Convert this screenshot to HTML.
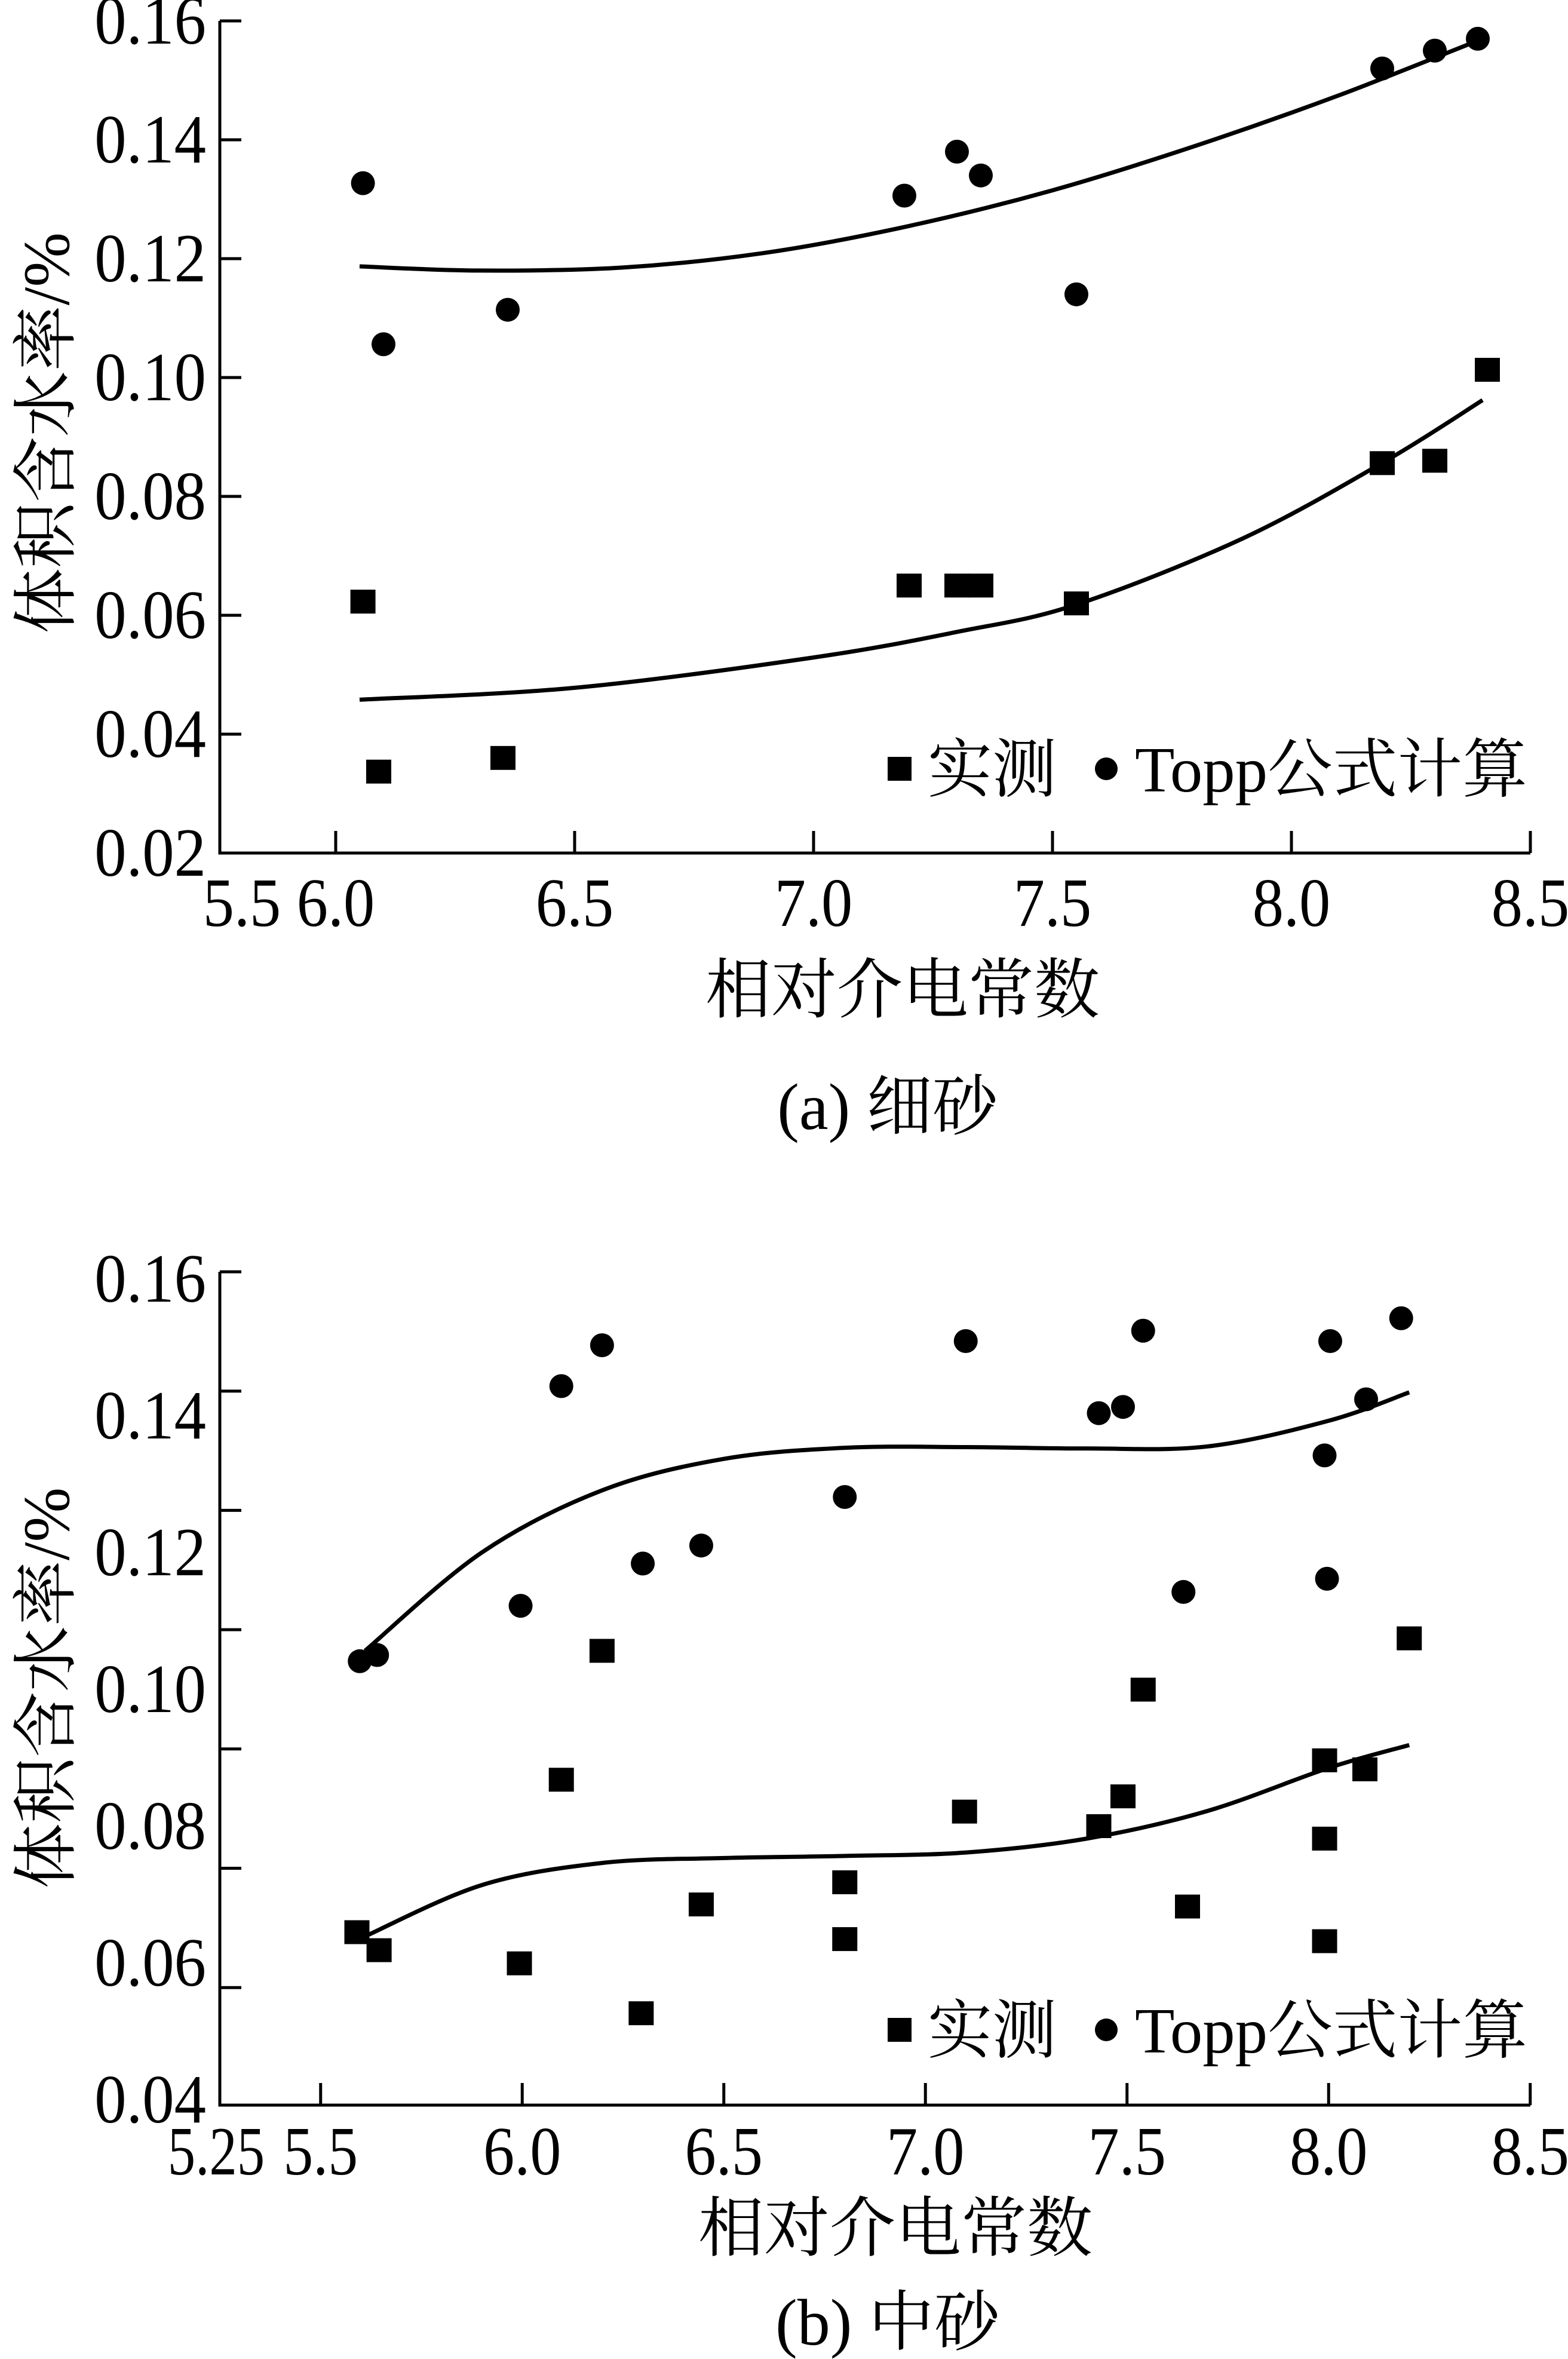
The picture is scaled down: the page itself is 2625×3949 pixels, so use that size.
<!DOCTYPE html>
<html><head><meta charset="utf-8">
<style>
html,body{margin:0;padding:0;background:#fff;}
svg{display:block;}
text{font-family:"Liberation Serif","Noto Serif CJK SC","Noto Sans CJK SC",serif;fill:#000;}
</style></head>
<body>
<svg id="chart" xmlns="http://www.w3.org/2000/svg" width="2625" height="3949" viewBox="0 0 2625 3949">
<rect width="2625" height="3949" fill="#fff"/>
</svg>
<script>
// ---- Panel (a) 细砂 data ----
const aCircleX = [6.057, 6.10, 6.36, 7.19, 7.30, 7.35, 7.55, 8.19, 8.30, 8.39];
const aCircleY = [0.1327, 0.1056, 0.1114, 0.1306, 0.138, 0.134, 0.114, 0.152, 0.155, 0.157];
const aSquareX = [6.057, 6.09, 6.35, 7.20, 7.30, 7.35, 7.55, 8.19, 8.30, 8.41];
const aSquareY = [0.0623, 0.0337, 0.036, 0.065, 0.065, 0.065, 0.062, 0.0856, 0.086, 0.1013];
const aFitTopX = [6.05, 6.3, 6.6, 6.9, 7.2, 7.5, 7.8, 8.1, 8.4];
const aFitTopY = [0.1187, 0.1180, 0.1185, 0.1210, 0.1255, 0.1315, 0.1390, 0.1475, 0.1570];
const aFitBotX = [6.05, 6.5, 7.0, 7.3, 7.55, 7.9, 8.2, 8.4];
const aFitBotY = [0.0458, 0.0478, 0.0529, 0.0572, 0.0618, 0.0730, 0.0861, 0.0962];
const aYTicks = [0.16, 0.14, 0.12, 0.10, 0.08, 0.06, 0.04, 0.02];
const aYTickLabels = ["0.16","0.14","0.12","0.10","0.08","0.06","0.04","0.02"];
const aXTicks = [6.0, 6.5, 7.0, 7.5, 8.0];
const aXTickLabels = ["6.0","6.5","7.0","7.5","8.0","8.5"];
const aXLabelVals = [6.0, 6.5, 7.0, 7.5, 8.0, 8.5];

// ---- Panel (b) 中砂 data ----
const bCircleX = [5.597,5.64,5.996,6.097,6.198,6.299,6.444,6.80,7.10,7.43,7.49,7.54,7.64,7.99,7.996,8.004,8.093,8.18];
const bCircleY = [0.1038,0.1047,0.1118,0.1435,0.1494,0.1179,0.1205,0.1275,0.150,0.1396,0.1405,0.1515,0.1138,0.1335,0.1157,0.150,0.1416,0.1533];
const bSquareX = [5.59,5.645,5.993,6.097,6.198,6.295,6.444,6.80,6.80,7.097,7.43,7.49,7.54,7.65,7.99,7.99,7.99,8.09,8.20];
const bSquareY = [0.0647,0.0621,0.0602,0.0867,0.1053,0.053,0.0687,0.0719,0.0637,0.0821,0.080,0.0843,0.0997,0.0684,0.0895,0.0782,0.0634,0.0882,0.1071];
const bFitTopX = [5.61, 5.9, 6.2, 6.5, 6.8, 7.1, 7.4, 7.7, 8.0, 8.2];
const bFitTopY = [0.1053, 0.1195, 0.1285, 0.1330, 0.1346, 0.1347, 0.1345, 0.1348, 0.1385, 0.1426];
const bFitBotX = [5.61, 5.9, 6.2, 6.5, 6.8, 7.1, 7.4, 7.7, 8.0, 8.2];
const bFitBotY = [0.0641, 0.0715, 0.0747, 0.0754, 0.0757, 0.0762, 0.0782, 0.0822, 0.0884, 0.0917];
const bYTickLabels = ["0.16","0.14","0.12","0.10","0.08","0.06","0.04"];
const bYLabelVals = [0.16, 0.14, 0.12, 0.10, 0.08, 0.06, 0.04];
const bXTicks = [5.5, 6.0, 6.5, 7.0, 7.5, 8.0];
const bXTickLabels = ["5.25","5.5","6.0","6.5","7.0","7.5","8.0","8.5"];
const bXLabelVals = [5.25, 5.5, 6.0, 6.5, 7.0, 7.5, 8.0, 8.5];

const NS = "http://www.w3.org/2000/svg";
const svg = document.getElementById('chart');
function el(tag, attrs, parent){
  const e = document.createElementNS(NS, tag);
  for (const k in attrs) e.setAttribute(k, attrs[k]);
  (parent||svg).appendChild(e);
  return e;
}
function txt(str, x, y, size, anchor, sx, parent){
  const g = el('g', {transform:`translate(${x},${y}) scale(${sx},1)`}, parent);
  const t = el('text', {x:0, y:0, 'font-size':size, 'text-anchor':anchor}, g);
  t.textContent = str;
  return t;
}

function panel(cfg){
  const g = el('g', {});
  
  
  const X = v => cfg.x0 + (v - cfg.xmin) * cfg.xs;
  const Y = v => cfg.y0 + (cfg.ymax - v) * cfg.ys;
  const ax = el('path', {d:`M${cfg.axL},${cfg.axTop} L${cfg.axL},${cfg.axBot} L${cfg.axR},${cfg.axBot}`, fill:'none', stroke:'#000', 'stroke-width':5}, g);
  
  
  cfg.yTickPix.forEach(py => {
    const t = el('line', {x1:cfg.axL, x2:cfg.axL+36, y1:py, y2:py, stroke:'#000', 'stroke-width':5}, g);
    
    
  });
  cfg.xTicks.forEach(v => {
    const t = el('line', {x1:X(v), x2:X(v), y1:cfg.axBot, y2:cfg.axBot-37, stroke:'#000', 'stroke-width':5}, g);
    
    
  });
  cfg.yLabels.forEach((s, i) => {
    const t = txt(s, 345, cfg.yLabelPix[i] + 38, 116, 'end', 0.92, g);
    
    
  });
  cfg.xLabels.forEach((s, i) => {
    const t = txt(s, cfg.xLabelPix[i], cfg.xLabelY, 116, 'middle', cfg.xLabelScale ? cfg.xLabelScale[i] : 0.9, g);
    
    
  });
  [[cfg.fitTopX, cfg.fitTopY, 'fit-curve-topp'], [cfg.fitBotX, cfg.fitBotY, 'fit-curve-measured']].forEach(([xs, ys, nm]) => {
    const pts = xs.map((v, i) => [X(v), Y(ys[i])]);
    let d = `M${pts[0][0]},${pts[0][1]}`;
    for (let i = 0; i < pts.length - 1; i++) {
      const p0 = pts[i-1] || pts[i], p1 = pts[i], p2 = pts[i+1], p3 = pts[i+2] || p2;
      const c1 = [p1[0] + (p2[0]-p0[0])/6, p1[1] + (p2[1]-p0[1])/6];
      const c2 = [p2[0] - (p3[0]-p1[0])/6, p2[1] - (p3[1]-p1[1])/6];
      d += ` C${c1[0]},${c1[1]} ${c2[0]},${c2[1]} ${p2[0]},${p2[1]}`;
    }
    const p = el('path', {d, fill:'none', stroke:'#000', 'stroke-width':7}, g);
    
    
  });
  cfg.circX.forEach((v, i) => {
    const c = el('circle', {cx:X(v), cy:Y(cfg.circY[i]), r:20, fill:'#000'}, g);
    
    
  });
  cfg.sqX.forEach((v, i) => {
    const r = el('rect', {x:X(v)-21, y:Y(cfg.sqY[i])-20, width:42, height:40, fill:'#000'}, g);
    
    
  });
  const lg = el('g', {}, g);
  
  
  const ls = el('rect', {x:1486, y:cfg.legY-20, width:40, height:40, fill:'#000'}, lg);
  
  
  const lt1 = el('text', {x:1553, y:cfg.legY+38, 'font-size':108}, lg);
  lt1.textContent = '实测';
  
  
  const lc = el('circle', {cx:1852, cy:cfg.legY, r:19, fill:'#000'}, lg);
  
  
  const lt2 = el('text', {x:1900, y:cfg.legY+38, 'font-size':108, textLength:657, lengthAdjust:'spacingAndGlyphs'}, lg);
  lt2.textContent = 'Topp公式计算';
  
  
  const xt = el('text', {x:cfg.xTitleX, y:cfg.xTitleY, 'font-size':110, 'text-anchor':'middle'}, g);
  xt.textContent = '相对介电常数';
  
  
  const yt = el('text', {x:0, y:0, 'font-size':110, 'text-anchor':'middle', transform:`translate(115,${cfg.yTitleY}) rotate(-90)`}, g);
  yt.textContent = '体积含水率/%';
  
  
  const cap = el('text', {x:cfg.capX, y:cfg.capY, 'font-size':110, 'text-anchor':'middle'}, g);
  cap.textContent = cfg.caption;
  
  
}

(function(){
  const x0 = 562, xs = 800, xmin = 6.0, y0 = 35, ys = 9950, ymax = 0.16;
  const X = v => x0 + (v - xmin) * xs;
  const Y = v => y0 + (ymax - v) * ys;
  panel({name:'panel-a-fine-sand', x0, xs, xmin, y0, ys, ymax,
    axL:368, axR:2562, axTop:35, axBot:1428,
    yTickPix: aYTicks.slice(0,7).map(Y),
    xTicks: aXTicks.concat([8.5]),
    yLabels: aYTickLabels, yLabelPix: aYTicks.map(Y),
    xLabels: ["5.5"].concat(aXTickLabels),
    xLabelPix: [405].concat(aXLabelVals.map(X)), xLabelY: 1550,
    fitTopX:aFitTopX, fitTopY:aFitTopY, fitBotX:aFitBotX, fitBotY:aFitBotY,
    circX:aCircleX, circY:aCircleY, sqX:aSquareX, sqY:aSquareY,
    legY:1287, xTitleX:1511, xTitleY:1695, yTitleY:725,
    capX:1486, capY:1890, caption:'(a)  细砂'});
})();
(function(){
  const x0 = 368, xs = 675, xmin = 5.25, y0 = 2129, ys = 11600, ymax = 0.16;
  const X = v => x0 + (v - xmin) * xs;
  const yTickPix = [];
  for (let k = 0; k < 7; k++) yTickPix.push(2129 + k * 199.7);
  const yLabelPix = bYLabelVals.map(v => 2141 + (0.16 - v) / 0.02 * 229);
  panel({name:'panel-b-medium-sand', x0, xs, xmin, y0, ys, ymax,
    axL:368, axR:2562, axTop:2129, axBot:3524,
    yTickPix, xTicks: bXTicks.concat([8.5]),
    yLabels: bYTickLabels, yLabelPix,
    xLabels: bXTickLabels, xLabelPix: bXLabelVals.map((v,i)=> i===0 ? 362 : X(v)), xLabelY: 3640,
    xLabelScale: [0.8,0.86,0.9,0.9,0.9,0.9,0.9,0.9],
    fitTopX:bFitTopX, fitTopY:bFitTopY, fitBotX:bFitBotX, fitBotY:bFitBotY,
    circX:bCircleX, circY:bCircleY, sqX:bSquareX, sqY:bSquareY,
    legY:3398, xTitleX:1499, xTitleY:3768, yTitleY:2826,
    capX:1486, capY:3925, caption:'(b)  中砂'});
})();
</script>
</body></html>
